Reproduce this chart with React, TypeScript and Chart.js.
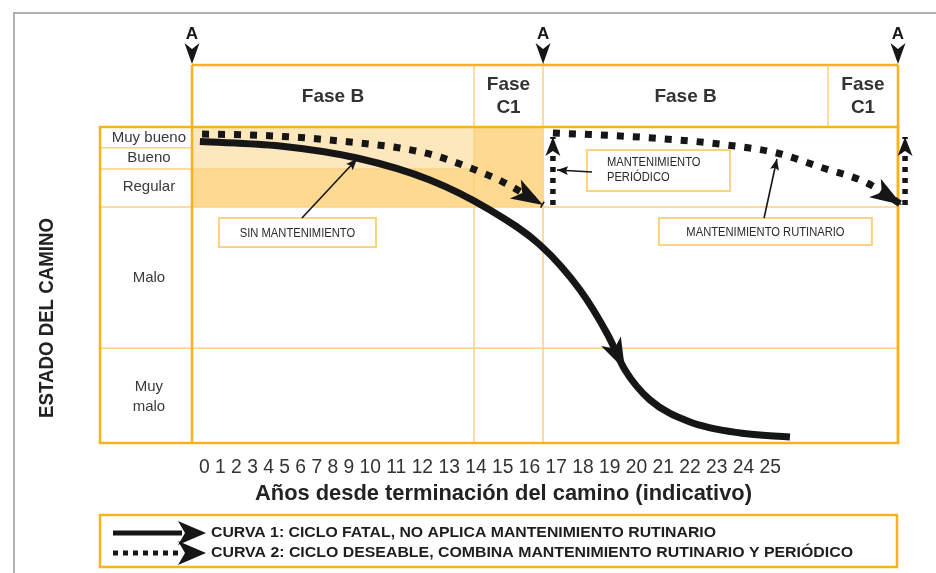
import React, { useEffect, useRef } from 'react';
import { Chart, registerables } from 'chart.js';

Chart.register(...registerables);

const FONT = "'Liberation Sans', Arial, Helvetica, sans-serif";

// ---------------- data ----------------
const yearTicks = [0, 1, 2, 3, 4, 5, 6, 7, 8, 9, 10, 11, 12, 13, 14, 15, 16, 17, 18, 19, 20, 21, 22, 23, 24, 25];
const xAxisTitle = 'Años desde terminación del camino (indicativo)';
const yAxisTitle = 'ESTADO DEL CAMINO';

const conditionLabels = ['Muy bueno', 'Bueno', 'Regular', 'Malo', 'Muy\nmalo'];
const conditionCenters = [96.6, 90.2, 81.0, 52.4, 14.6];
const conditionBounds = [30.0, 74.7, 86.7, 93.4];

const phaseEdges = [0, 13.18, 16.41, 29.73, 33];
const phaseNames = ['Fase B', 'Fase\nC1', 'Fase B', 'Fase\nC1'];
const interventionMarks = [0, 16.41, 33];
const interventionLabel = 'A';

// Curve 1: no maintenance
const curve1Years = [0.37, 4.11, 7.71, 11.12, 13.93, 16.27, 18.14, 19.44, 20.24, 21.41, 23.28, 25.62, 27.95];
const curve1State = [95.41, 93.99, 90.19, 83.23, 73.73, 62.66, 48.42, 34.18, 23.1, 13.61, 6.65, 3.16, 1.9];

// Curve 2: routine + periodic maintenance
const curve2aYears = [0.47, 2.71, 5.05, 7.39, 9.72, 11.26, 13.13, 14.54, 16.41];
const curve2aState = [97.78, 97.47, 96.68, 95.25, 93.35, 91.14, 86.71, 82.59, 75.32];
const periodic1Years = [16.87, 16.87];
const periodic1State = [75.32, 96.84];
const curve2bYears = [16.87, 19.07, 21.55, 25.01, 27.34, 29.35, 31.55, 33.19];
const curve2bState = [98.1, 97.47, 96.52, 94.3, 91.77, 87.34, 82.28, 75.32];
const periodic2Years = [33.33, 33.33];
const periodic2State = [75.32, 96.84];

const legendLabels = [
  'CURVA 1: CICLO FATAL, NO APLICA MANTENIMIENTO RUTINARIO',
  'CURVA 2: CICLO DESEABLE, COMBINA MANTENIMIENTO RUTINARIO Y PERIÓDICO',
];

// shaded condition zones
const zoneFrom = [0, 0, 13.18];
const zoneTo = [13.18, 13.18, 16.41];
const zoneLow = [86.7, 74.7, 74.7];
const zoneHigh = [100, 86.7, 100];

// annotations
const noteTexts = ['SIN MANTENIMIENTO', 'MANTENIMIENTO\nPERIÓDICO', 'MANTENIMIENTO RUTINARIO'];
const noteBoxX0 = [1.26, 18.46, 21.83];
const noteBoxX1 = [8.6, 25.15, 31.78];
const noteBoxTop = [71.2, 92.72, 71.2];
const noteBoxBottom = [62.0, 79.75, 62.66];
const noteFromX = [5.14, 18.7, 26.74];
const noteFromY = [71.2, 85.76, 71.2];
const noteToX = [7.71, 17.06, 27.34];
const noteToY = [89.87, 86.39, 89.87];

// ---------------- styles ----------------
const ORANGE = '#f8b21a';
const ORANGE_THIN = '#fdd27f';
const ZONE_COLORS = ['#fde8be', '#fdd992', '#fdd992'];
const INK = '#161616';
const TEXT = '#333333';

function arrowHead(ctx: CanvasRenderingContext2D, tx: number, ty: number, dx: number, dy: number, len: number, hw: number, notch: number) {
  const L = Math.hypot(dx, dy) || 1;
  const ux = dx / L, uy = dy / L;
  const px = -uy, py = ux;
  const bx = tx - ux * len, by = ty - uy * len;
  const nx = tx - ux * (len - notch), ny = ty - uy * (len - notch);
  ctx.beginPath();
  ctx.moveTo(tx, ty);
  ctx.lineTo(bx + px * hw, by + py * hw);
  ctx.lineTo(nx, ny);
  ctx.lineTo(bx - px * hw, by - py * hw);
  ctx.closePath();
  ctx.fill();
}

function fitText(ctx: CanvasRenderingContext2D, text: string, x: number, y: number, width: number, font: string, align: CanvasTextAlign) {
  ctx.save();
  ctx.font = font;
  const w = ctx.measureText(text).width;
  const s = width / w;
  ctx.translate(x, y);
  ctx.scale(s, 1);
  ctx.textAlign = align;
  ctx.textBaseline = 'middle';
  ctx.fillText(text, 0, 0);
  ctx.restore();
}

function scaledText(ctx: CanvasRenderingContext2D, text: string, x: number, y: number, sx: number, font: string, align: CanvasTextAlign) {
  ctx.save();
  ctx.font = font;
  ctx.translate(x, y);
  ctx.scale(sx, 1);
  ctx.textAlign = align;
  ctx.textBaseline = 'middle';
  ctx.fillText(text, 0, 0);
  ctx.restore();
}

const HEADER_TOP = 65;

const diagramPlugin = {
  id: 'diagram',
  beforeDatasetsDraw(chart: any) {
    const { ctx, chartArea: ca, scales } = chart;
    const xs = scales.x, ys = scales.y;
    const X = (v: number) => xs.getPixelForValue(v);
    const Y = (v: number) => ys.getPixelForValue(v);
    const colLeft = ys.left;
    ctx.save();
    for (let i = 0; i < zoneFrom.length; i++) {
      ctx.fillStyle = ZONE_COLORS[i];
      ctx.fillRect(X(zoneFrom[i]), Y(zoneHigh[i]), X(zoneTo[i]) - X(zoneFrom[i]), Y(zoneLow[i]) - Y(zoneHigh[i]));
    }
    ctx.strokeStyle = ORANGE_THIN;
    ctx.lineWidth = 1.5;
    const hl = (yv: number, x0: number, x1: number) => {
      ctx.beginPath(); ctx.moveTo(x0, Y(yv)); ctx.lineTo(x1, Y(yv)); ctx.stroke();
    };
    const vl = (xv: number, y0: number, y1: number) => {
      ctx.beginPath(); ctx.moveTo(X(xv), y0); ctx.lineTo(X(xv), y1); ctx.stroke();
    };
    hl(conditionBounds[0], colLeft, ca.right);
    hl(conditionBounds[1], colLeft, ca.right);
    hl(conditionBounds[2], colLeft, X(phaseEdges[1]));
    hl(conditionBounds[3], colLeft, ca.left);
    vl(phaseEdges[1], HEADER_TOP, ca.bottom);
    vl(phaseEdges[3], HEADER_TOP, ca.top);
    vl(interventionMarks[1], HEADER_TOP - 2, ca.bottom);
    ctx.strokeStyle = ORANGE;
    ctx.lineWidth = 2.5;
    ctx.strokeRect(colLeft, ca.top, ca.right - colLeft, ca.bottom - ca.top);
    ctx.beginPath();
    ctx.moveTo(ca.left, HEADER_TOP); ctx.lineTo(ca.left, ca.bottom);
    ctx.moveTo(ca.left, HEADER_TOP); ctx.lineTo(ca.right, HEADER_TOP);
    ctx.moveTo(ca.right, HEADER_TOP); ctx.lineTo(ca.right, ca.bottom);
    ctx.stroke();
    ctx.restore();
  },
  afterDatasetsDraw(chart: any) {
    const { ctx, scales } = chart;
    const X = (v: number) => scales.x.getPixelForValue(v);
    const Y = (v: number) => scales.y.getPixelForValue(v);
    ctx.save();
    ctx.fillStyle = INK;
    const heads = [
      { ds: 0, idx: 8, len: 32, hw: 11, notch: 8 },
      { ds: 1, idx: -1, len: 32, hw: 11, notch: 8 },
      { ds: 2, idx: -1, len: 19, hw: 7.5, notch: 5 },
      { ds: 3, idx: -1, len: 32, hw: 11, notch: 8 },
      { ds: 4, idx: -1, len: 19, hw: 7.5, notch: 5 },
    ];
    heads.forEach((h) => {
      const pts = chart.getDatasetMeta(h.ds).data;
      const i = h.idx < 0 ? pts.length - 1 : h.idx;
      const p = pts[i], q = pts[i - 1];
      arrowHead(ctx, p.x, p.y, p.x - q.x, p.y - q.y, h.len, h.hw, h.notch);
    });
    for (let i = 0; i < noteTexts.length; i++) {
      const x0 = X(noteBoxX0[i]), x1 = X(noteBoxX1[i]);
      const y0 = Y(noteBoxTop[i]), y1 = Y(noteBoxBottom[i]);
      ctx.fillStyle = '#ffffff';
      ctx.fillRect(x0, y0, x1 - x0, y1 - y0);
      ctx.strokeStyle = ORANGE_THIN;
      ctx.lineWidth = 2;
      ctx.strokeRect(x0, y0, x1 - x0, y1 - y0);
      ctx.fillStyle = '#2b2b2b';
      const lines = noteTexts[i].split('\n');
      if (lines.length === 1) {
        scaledText(ctx, lines[0], (x0 + x1) / 2, (y0 + y1) / 2 + 1, 0.86, `13px ${FONT}`, 'center');
      } else {
        const lx = x0 + 20;
        const my = (y0 + y1) / 2;
        scaledText(ctx, lines[0], lx, my - 8, 0.86, `13px ${FONT}`, 'left');
        scaledText(ctx, lines[1], lx, my + 7, 0.86, `13px ${FONT}`, 'left');
      }
      const fx = X(noteFromX[i]), fy = Y(noteFromY[i]);
      const tx = X(noteToX[i]), ty = Y(noteToY[i]);
      ctx.strokeStyle = INK;
      ctx.lineWidth = 1.6;
      ctx.beginPath(); ctx.moveTo(fx, fy); ctx.lineTo(tx, ty); ctx.stroke();
      ctx.fillStyle = INK;
      arrowHead(ctx, tx, ty, tx - fx, ty - fy, 11, 4.5, 2);
    }
    ctx.restore();
  },
  afterDraw(chart: any) {
    const { ctx, chartArea: ca, scales } = chart;
    const X = (v: number) => scales.x.getPixelForValue(v);
    ctx.save();
    ctx.strokeStyle = '#b0b0b0';
    ctx.lineWidth = 2;
    ctx.beginPath();
    ctx.moveTo(14, 573); ctx.lineTo(14, 13); ctx.lineTo(936, 13);
    ctx.stroke();
    ctx.fillStyle = TEXT;
    ctx.font = `bold 19px ${FONT}`;
    ctx.textAlign = 'center';
    ctx.textBaseline = 'middle';
    const hMid = (HEADER_TOP + ca.top) / 2;
    for (let i = 0; i < phaseNames.length; i++) {
      const cx = (X(phaseEdges[i]) + X(phaseEdges[i + 1])) / 2;
      const lines = phaseNames[i].split('\n');
      if (lines.length === 1) ctx.fillText(lines[0], cx, hMid + 1);
      else {
        ctx.fillText(lines[0], cx, hMid - 11);
        ctx.fillText(lines[1], cx, hMid + 12);
      }
    }
    ctx.fillStyle = INK;
    ctx.font = `bold 17px ${FONT}`;
    interventionMarks.forEach((m) => {
      const px = X(m);
      ctx.fillText(interventionLabel, px, 34);
      arrowHead(ctx, px, 64, 0, 1, 21, 7.5, 6);
    });
    ctx.fillStyle = '#222222';
    ctx.save();
    ctx.translate(47, 318);
    ctx.rotate(-Math.PI / 2);
    fitText(ctx, yAxisTitle, 0, 0, 200, `bold 21px ${FONT}`, 'center');
    ctx.restore();
    ctx.fillStyle = TEXT;
    fitText(ctx, yearTicks.join(' '), 490, 467, 582, `20px ${FONT}`, 'center');
    ctx.fillStyle = '#222222';
    fitText(ctx, xAxisTitle, 503.5, 494, 497, `bold 22px ${FONT}`, 'center');
    const lx0 = 100, lx1 = 897, ly0 = 515, ly1 = 567;
    ctx.strokeStyle = ORANGE;
    ctx.lineWidth = 2.5;
    ctx.strokeRect(lx0, ly0, lx1 - lx0, ly1 - ly0);
    const rows = [533, 553];
    const legendDs = [0, 1];
    legendDs.forEach((d, i) => {
      const ds = chart.data.datasets[d];
      const y = rows[i];
      ctx.strokeStyle = INK;
      ctx.lineWidth = 5;
      ctx.setLineDash(ds.borderDash && ds.borderDash.length ? [5, 5] : []);
      ctx.beginPath(); ctx.moveTo(113, y); ctx.lineTo(182, y); ctx.stroke();
      ctx.setLineDash([]);
      ctx.fillStyle = INK;
      arrowHead(ctx, 206, y, 1, 0, 28, 12, 7);
      ctx.fillStyle = '#1e1e1e';
      fitText(ctx, ds.label, 211, y, i === 0 ? 505 : 642, `bold 14px ${FONT}`, 'left');
    });
    ctx.restore();
  },
};

export default function App() {
  const ref = useRef<HTMLCanvasElement | null>(null);
  useEffect(() => {
    document.body.style.margin = '0';
    const canvas = ref.current;
    if (!canvas) return;
    const pts = (xs: number[], ys: number[]) => xs.map((x, i) => ({ x, y: ys[i] }));
    const chart = new Chart(canvas, {
      type: 'line',
      data: {
        datasets: [
          { label: legendLabels[0], data: pts(curve1Years, curve1State), borderColor: INK, borderWidth: 7, cubicInterpolationMode: 'monotone', clip: false, pointRadius: 0 } as any,
          { label: legendLabels[1], data: pts(curve2aYears, curve2aState), borderColor: INK, borderWidth: 7, borderDash: [7, 9], cubicInterpolationMode: 'monotone', clip: false, pointRadius: 0 } as any,
          { label: '', data: pts(periodic1Years, periodic1State), borderColor: INK, borderWidth: 5.5, borderDash: [5, 6], clip: false, pointRadius: 0 } as any,
          { label: '', data: pts(curve2bYears, curve2bState), borderColor: INK, borderWidth: 7, borderDash: [7, 9], cubicInterpolationMode: 'monotone', clip: false, pointRadius: 0 } as any,
          { label: '', data: pts(periodic2Years, periodic2State), borderColor: INK, borderWidth: 5.5, borderDash: [5, 6], clip: false, pointRadius: 0 } as any,
        ],
      },
      options: {
        responsive: false,
        animation: false,
        layout: { padding: { left: 100, right: 38, top: 127, bottom: 130 } },
        plugins: { legend: { display: false }, tooltip: { enabled: false } },
        scales: {
          x: { type: 'linear', min: 0, max: 33, display: false },
          y: {
            type: 'linear',
            min: 0,
            max: 100,
            position: 'left',
            afterFit: (s: any) => { s.width = 92; },
            afterBuildTicks: (s: any) => { s.ticks = conditionCenters.map((v) => ({ value: v })); },
            ticks: {
              autoSkip: false,
              crossAlign: 'center',
              padding: 6,
              color: '#3a3a3a',
              font: { family: FONT, size: 15, lineHeight: 1.35 },
              callback: (_v: any, i: number) => conditionLabels[i].split('\n'),
            },
            grid: { display: false, drawTicks: false },
            border: { display: false },
          },
        },
      } as any,
      plugins: [diagramPlugin],
    });
    return () => chart.destroy();
  }, []);
  return (
    <div style={{ width: 936, height: 573, background: '#ffffff' }}>
      <canvas ref={ref} width={936} height={573} style={{ display: 'block' }} />
    </div>
  );
}
